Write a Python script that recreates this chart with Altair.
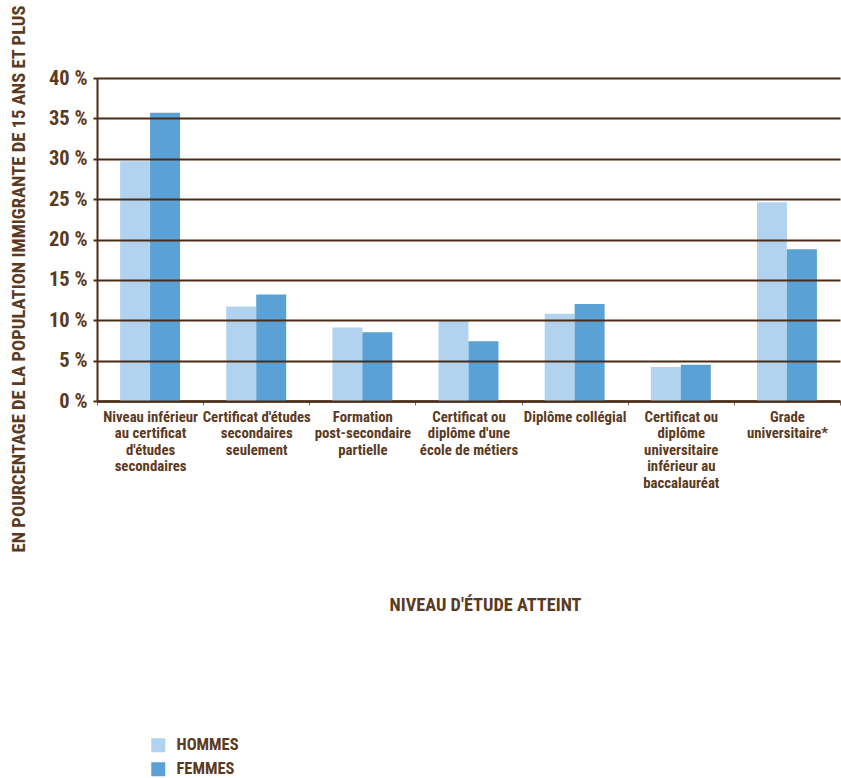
import altair as alt
import pandas as pd

categories = [
    "Niveau inférieur|au certificat|d'études|secondaires",
    "Certificat d'études|secondaires|seulement",
    "Formation|post-secondaire|partielle",
    "Certificat ou|diplôme d'une|école de métiers",
    "Diplôme collégial",
    "Certificat ou|diplôme|universitaire|inférieur au|baccalauréat",
    "Grade|universitaire*",
]
hommes = [29.7, 11.7, 9.1, 9.9, 10.8, 4.2, 24.6]
femmes = [35.7, 13.2, 8.5, 7.4, 12.0, 4.5, 18.8]
series = ["HOMMES", "FEMMES"]
colors = ["#b2d3ef", "#5aa1d5"]

rows = []
for c, h, f in zip(categories, hommes, femmes):
    rows.append({"cat": c, "sexe": "HOMMES", "val": h})
    rows.append({"cat": c, "sexe": "FEMMES", "val": f})
df = pd.DataFrame(rows)

FONT = "Liberation Sans Narrow, Roboto Condensed, Arial Narrow, Liberation Sans, sans-serif"
BROWN = "#5b3a22"
LINE = "#4a2c17"

chart = alt.Chart(df).mark_bar().encode(
    x=alt.X(
        "cat:N",
        sort=categories,
        scale=alt.Scale(paddingInner=0, paddingOuter=0),
        axis=alt.Axis(
            title="NIVEAU D'ÉTUDE ATTEINT",
            labelExpr="split(datum.label, '|')",
            labelAngle=0,
            labelFont=FONT,
            labelFontSize=14.8,
            labelFontWeight="bold",
            labelColor=BROWN,
            labelLineHeight=16.5,
            labelPadding=4,
            labelBaseline="top",
            labelLimit=200,
            tickBand="extent",
            tickSize=4,
            tickColor="#8a6a55",
            domainColor=LINE,
            domainWidth=2.5,
            titleFont=FONT,
            titleFontSize=18.3,
            titleFontWeight="bold",
            titleColor=BROWN,
            titleX=388,
            titleAlign="center",
            titleY=204,
            titleBaseline="middle",
        ),
    ),
    xOffset=alt.XOffset("sexe:N", sort=series, scale=alt.Scale(paddingOuter=0.77, paddingInner=0)),
    y=alt.Y(
        "val:Q",
        scale=alt.Scale(domain=[0, 40], nice=False),
        axis=alt.Axis(
            title="EN POURCENTAGE DE LA POPULATION IMMIGRANTE DE 15 ANS ET PLUS",
            values=[0, 5, 10, 15, 20, 25, 30, 35, 40],
            labelExpr="datum.value + ' %'",
            labelFont=FONT,
            labelFontSize=20.5,
            labelFontWeight="bold",
            labelColor=BROWN,
            labelPadding=6,
            tickSize=4,
            tickColor=LINE,
            tickWidth=2,
            domainColor=LINE,
            domainWidth=2,
            grid=True,
            gridColor=LINE,
            gridWidth=2,
            gridOpacity=1,
            zindex=1,
            titleFont=FONT,
            titleFontSize=18.6,
            titleFontWeight="bold",
            titleColor=BROWN,
            titleAngle=-90,
            titleX=-88,
            titleY=-73,
            titleAlign="right",
            titleBaseline="top",
        ),
    ),
    color=alt.Color(
        "sexe:N",
        sort=series,
        scale=alt.Scale(domain=series, range=colors),
        legend=alt.Legend(
            title=None,
            orient="none",
            legendX=53,
            legendY=659,
            symbolType="square",
            symbolSize=196,
            symbolStrokeWidth=0,
            symbolOpacity=1,
            labelFont=FONT,
            labelFontSize=16.5,
            labelFontWeight="bold",
            labelColor=BROWN,
            labelOffset=10,
            rowPadding=7,
        ),
    ),
).properties(
    width=743,
    height=323,
    autosize=alt.AutoSizeParams(type="none"),
    padding={"left": 97, "top": 78, "right": 1, "bottom": 377},
).configure_view(stroke=None)

chart.save("out.html", embed_options={"renderer": "svg", "actions": False})
